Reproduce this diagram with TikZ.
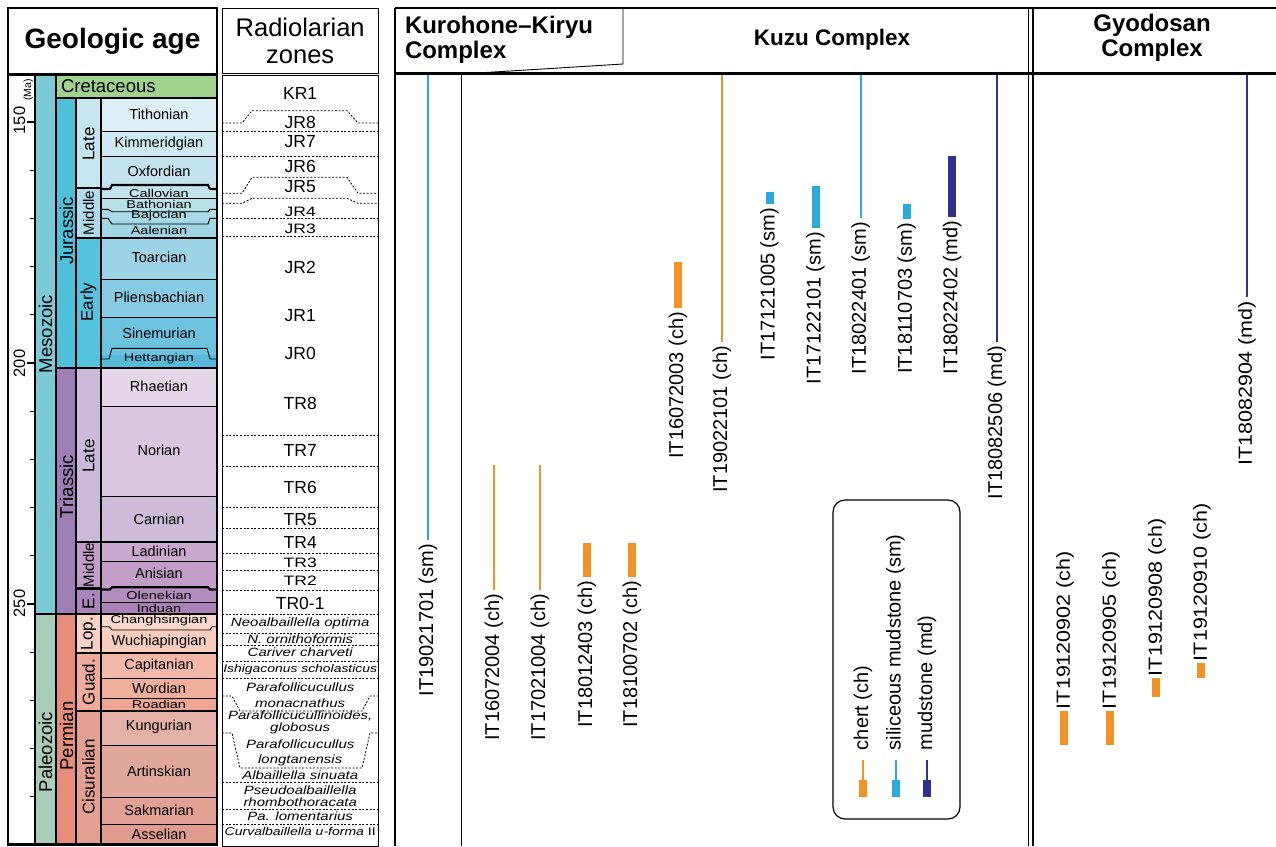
\documentclass[tikz,border=0pt]{standalone}
\usepackage{fontspec}
\setmainfont{Liberation Sans}
\definecolor{cCret}{HTML}{A1D28E}
\definecolor{cMeso}{HTML}{7BCAD6}
\definecolor{cPaleo}{HTML}{A9CDB7}
\definecolor{cJur}{HTML}{4FC0D9}
\definecolor{cTri}{HTML}{9D7EB5}
\definecolor{cPerm}{HTML}{E68E7A}
\definecolor{cLJ}{HTML}{C5E5EF}
\definecolor{cMJ}{HTML}{AEDDE9}
\definecolor{cEJ}{HTML}{55C3DD}
\definecolor{cLT}{HTML}{CBB9DA}
\definecolor{cMT}{HTML}{BF9DC6}
\definecolor{cET}{HTML}{AC85BA}
\definecolor{cLop}{HTML}{F8D2C6}
\definecolor{cGuad}{HTML}{F0AC9A}
\definecolor{cCis}{HTML}{E49F93}
\definecolor{Tith}{HTML}{DCEFF5}
\definecolor{Kimm}{HTML}{CFE9F2}
\definecolor{Oxf}{HTML}{C3E4EF}
\definecolor{Call}{HTML}{C2E5EB}
\definecolor{Bath}{HTML}{B7E0E8}
\definecolor{Baj}{HTML}{ABDBE6}
\definecolor{Aal}{HTML}{A0D6E3}
\definecolor{Toar}{HTML}{9DD3E6}
\definecolor{Plien}{HTML}{86CAE3}
\definecolor{Sinem}{HTML}{6DC2DF}
\definecolor{Hett}{HTML}{56BBDB}
\definecolor{Rhae}{HTML}{E4D5E7}
\definecolor{Nor}{HTML}{D9C7E1}
\definecolor{Carn}{HTML}{CEBBDA}
\definecolor{Ladi}{HTML}{CBA8CE}
\definecolor{Anis}{HTML}{C09CC7}
\definecolor{Olen}{HTML}{B48DBF}
\definecolor{Indu}{HTML}{AA80B9}
\definecolor{Chang}{HTML}{FAD7CC}
\definecolor{Wuch}{HTML}{F8CCBE}
\definecolor{Capi}{HTML}{F3B8A8}
\definecolor{Word}{HTML}{F0AE9D}
\definecolor{Road}{HTML}{EEA593}
\definecolor{Kung}{HTML}{E5B1A7}
\definecolor{Arti}{HTML}{E3A89C}
\definecolor{Sakm}{HTML}{E2A195}
\definecolor{Asse}{HTML}{E19B8F}
\definecolor{chc}{HTML}{F39325}
\definecolor{smc}{HTML}{29ABE2}
\definecolor{mdc}{HTML}{2E3192}
\begin{document}
\begin{tikzpicture}[x=1pt,y=-1pt,
  every node/.style={inner sep=0pt,outer sep=0pt},
  thk/.style={line width=2.2pt},
  thn/.style={line width=0.9pt},
  stg/.style={font=\fontsize{14.5}{16}\selectfont},
  tight/.style={yscale=0.78},
  epo/.style={rotate=90,font=\fontsize{17}{18}\selectfont},
  per/.style={rotate=90,font=\fontsize{18.5}{20}\selectfont},
  zone/.style={font=\fontsize{17.5}{19}\selectfont},
  pz/.style={font=\itshape\fontsize{15}{11}\selectfont,yscale=0.8},
  zl/.style={dash pattern=on 2pt off 1.6pt,line width=0.8pt},
  lab/.style={rotate=90,font=\fontsize{20}{22}\selectfont},
  glab/.style={rotate=90,font=\fontsize{19}{22}\selectfont,xscale=1.13},
  hd/.style={font=\bfseries\fontsize{24}{25}\selectfont,align=center},
  thinbar/.style={line width=2pt},
  thickbar/.style={line width=8pt}]
\useasboundingbox (0,0) rectangle (1276,846);
% ---------------- geologic column fills
\fill[white] (8,74) rectangle (35,845);
\fill[cMeso] (35,74) rectangle (56,614);
\fill[cPaleo] (35,614) rectangle (56,845);
\fill[cCret] (56,74) rectangle (217,98);
\fill[cJur] (56,98) rectangle (76,368);
\fill[cTri] (56,368) rectangle (76,614);
\fill[cPerm] (56,614) rectangle (76,845);
\fill[cLJ] (76,98) rectangle (101,188);
\fill[cMJ] (76,188) rectangle (101,238);
\fill[cEJ] (76,238) rectangle (101,368);
\fill[cLT] (76,368) rectangle (101,542);
\fill[cMT] (76,542) rectangle (101,588);
\fill[cET] (76,588) rectangle (101,614);
\fill[cLop] (76,614) rectangle (101,653);
\fill[cGuad] (76,653) rectangle (101,711);
\fill[cCis] (76,711) rectangle (101,845);
% stages
\fill[Tith] (101,98) rectangle (217,131.7);
\fill[Kimm] (101,131.7) rectangle (217,156.7);
\fill[Oxf] (101,156.7) rectangle (217,189);
\fill[Call] (101,189) rectangle (217,198.5);
\fill[Bath] (101,198.5) rectangle (217,210);
\fill[Baj] (101,210) rectangle (217,221);
\fill[Aal] (101,221) rectangle (217,238);
\fill[Toar] (101,238) rectangle (217,279);
\fill[Plien] (101,279) rectangle (217,317.7);
\fill[Sinem] (101,317.7) rectangle (217,355);
\fill[Hett] (101,355) rectangle (217,368);
\fill[Rhae] (101,368) rectangle (217,406);
\fill[Nor] (101,406) rectangle (217,496.7);
\fill[Carn] (101,496.7) rectangle (217,542);
\fill[Ladi] (101,542) rectangle (217,561);
\fill[Anis] (101,561) rectangle (217,588.5);
\fill[Olen] (101,588.5) rectangle (217,602.3);
\fill[Indu] (101,602.3) rectangle (217,614);
\fill[Chang] (101,614) rectangle (217,628);
\fill[Wuch] (101,628) rectangle (217,653);
\fill[Capi] (101,653) rectangle (217,678.3);
\fill[Word] (101,678.3) rectangle (217,698.3);
\fill[Road] (101,698.3) rectangle (217,711);
\fill[Kung] (101,711) rectangle (217,745);
\fill[Arti] (101,745) rectangle (217,797.3);
\fill[Sakm] (101,797.3) rectangle (217,824);
\fill[Asse] (101,824) rectangle (217,845);
% thin stage boundaries
\draw[thn] (101,131.7) -- (217,131.7);
\draw[thn] (101,156.7) -- (217,156.7);
\draw[thn] (101,198.5) -- (217,198.5);
\draw[thn] (101,209.3) -- (108,209.3) -- (112,211.7) -- (208,211.7) -- (210,209.3) -- (217,209.3);
\draw[thn] (101,218.3) -- (108,218.3) -- (112,224) -- (208,224) -- (210,218.3) -- (217,218.3);
\draw[thn] (101,279) -- (217,279);
\draw[thn] (101,317.7) -- (217,317.7);
\draw[thn] (101,359) -- (109,359) -- (112,348.3) -- (207,348.3) -- (210,359) -- (217,359);
\draw[thn] (101,406) -- (217,406);
\draw[thn] (101,496.7) -- (217,496.7);
\draw[thn] (101,561) -- (217,561);
\draw[thn] (101,602.3) -- (217,602.3);
\draw[thn] (101,626.7) -- (109,626.7) -- (112,630) -- (210,630) -- (212,626.7) -- (217,626.7);
\draw[thn] (101,678.3) -- (217,678.3);
\draw[thn] (101,698.3) -- (217,698.3);
\draw[thn] (101,745) -- (217,745);
\draw[thn] (101,797.3) -- (217,797.3);
\draw[thn] (101,824) -- (217,824);
% thick boundaries
\draw[thk] (101,189) -- (110,189) -- (112,185) -- (208,185) -- (210,189) -- (217,189);
\draw[thk] (76,188) -- (101,188);
\draw[thk] (76,238) -- (217,238);
\draw[thk] (76,542) -- (217,542);
\draw[thk] (76,588.5) -- (101,588.5);
\draw[thk] (101,589.5) -- (110,589.5) -- (112,587.3) -- (208,587.3) -- (210,589.5) -- (217,589.5);
\draw[thk] (76,653) -- (217,653);
\draw[thk] (76,711) -- (217,711);
\draw[thk] (56,98) -- (217,98);
\draw[thk] (56,368) -- (217,368);
\draw[thk] (35,614) -- (217,614);
\draw[thk] (35,74) -- (35,845);
\draw[thk] (56,74) -- (56,845);
\draw[thk] (76,98) -- (76,845);
\draw[thk] (101,98) -- (101,845);
\draw[line width=2.6pt] (8,74.5) rectangle (217,844.5);
\draw[line width=2.6pt] (8,8) rectangle (217,74.5);
% Ma ticks
\foreach \m in {150,200,250} \draw[line width=2.4pt] (27,{122+(\m-150)*4.82}) -- (35,{122+(\m-150)*4.82});
\foreach \m in {160,170,180,190,210,220,230,240,260,270,280,290} \draw[line width=1pt] (30,{122+(\m-150)*4.82}) -- (35,{122+(\m-150)*4.82});
\node[rotate=90,font=\fontsize{16.5}{16}\selectfont] (ma150) at (19.5,120.5) {150};
\node[rotate=90,font=\fontsize{10.5}{10}\selectfont] (maunit) at (28.5,90) {(Ma)};
\node[rotate=90,font=\fontsize{16.5}{16}\selectfont] (ma200) at (19.5,363.5) {200};
\node[rotate=90,font=\fontsize{16.5}{16}\selectfont] (ma250) at (19.5,603.5) {250};
% header
\node[font=\bfseries\fontsize{28}{30}\selectfont] (geoage) at (112.5,41) {Geologic age};
% era / period / epoch labels
\node[per] (meso) at (45.5,334) {Mesozoic};
\node[per] (paleo) at (45.5,752) {Paleozoic};
\node[font=\fontsize{18.5}{20}\selectfont,anchor=west] (cret) at (61,86.5) {Cretaceous};
\node[per] (jur) at (66.5,231) {Jurassic};
\node[per] (tri) at (66.5,486.5) {Triassic};
\node[per] (perm) at (66.5,736) {Permian};
\node[epo] (lj) at (88.5,144) {Late};
\node[epo,font=\fontsize{15}{16}\selectfont] (mj) at (88.5,213) {Middle};
\node[epo] (ej) at (88.5,302) {Early};
\node[epo] (lt) at (88.5,456) {Late};
\node[epo,font=\fontsize{15}{16}\selectfont] (mt) at (88.5,565) {Middle};
\node[epo] (et) at (88.5,601) {E.};
\node[epo] (lop) at (88.5,633.5) {Lop.};
\node[epo] (guad) at (88.5,682) {Guad.};
\node[epo] (cis) at (88.5,777) {Cisuralian};
% stage labels
\node[stg] (n1) at (159,114.5) {Tithonian};
\node[stg] (n2) at (159,144) {Kimmeridgian};
\node[stg] (n3) at (159,171) {Oxfordian};
\node[stg,tight] (n4) at (159,193) {Callovian};
\node[stg,tight] (n5) at (159,204) {Bathonian};
\node[stg,tight] (n6) at (159,215.5) {Bajocian};
\node[stg,tight] (n7) at (159,230) {Aalenian};
\node[stg] (n8) at (159,257) {Toarcian};
\node[stg] (n9) at (159,297) {Pliensbachian};
\node[stg] (n10) at (159,333) {Sinemurian};
\node[stg,tight] (n11) at (159,358.5) {Hettangian};
\node[stg] (n12) at (159,386) {Rhaetian};
\node[stg] (n13) at (159,450) {Norian};
\node[stg] (n14) at (159,519) {Carnian};
\node[stg] (n15) at (159,551.5) {Ladinian};
\node[stg] (n16) at (159,573.5) {Anisian};
\node[stg,tight] (n17) at (159,595) {Olenekian};
\node[stg,tight] (n18) at (159,608) {Induan};
\node[stg,tight] (n19) at (159,620.5) {Changhsingian};
\node[stg] (n20) at (159,642) {Wuchiapingian};
\node[stg] (n21) at (159,665.5) {Capitanian};
\node[stg] (n22) at (159,688) {Wordian};
\node[stg,tight] (n23) at (159,704.5) {Roadian};
\node[stg] (n24) at (159,727) {Kungurian};
\node[stg] (n25) at (159,771) {Artinskian};
\node[stg] (n26) at (159,810) {Sakmarian};
\node[stg] (n27) at (159,834) {Asselian};
% ---------------- radiolarian zones
\draw[line width=1pt] (222,8) rectangle (378.5,73.5);
\draw[line width=1pt] (222,75) rectangle (378.5,846);
\node[font=\fontsize{25.5}{27}\selectfont,align=center] (rzh) at (300.2,41) {Radiolarian\\zones};
\draw[zl] (222,123) -- (242,123) -- (252,110.7) -- (347,110.7) -- (358,123) -- (378.5,123);
\draw[zl] (222,131.7) -- (378.5,131.7);
\draw[zl] (222,156) -- (378.5,156);
\draw[zl] (222,193.3) -- (242,193.3) -- (252,177.3) -- (347,177.3) -- (358,193.3) -- (378.5,193.3);
\draw[zl] (222,203.3) -- (242,203.3) -- (252,198.3) -- (347,198.3) -- (358,203.3) -- (378.5,203.3);
\draw[zl] (222,218.3) -- (378.5,218.3);
\draw[zl] (222,236.7) -- (378.5,236.7);
\draw[zl] (222,435.7) -- (378.5,435.7);
\draw[zl] (222,466) -- (378.5,466);
\draw[zl] (222,507.7) -- (378.5,507.7);
\draw[zl] (222,528.3) -- (378.5,528.3);
\draw[zl] (222,553.3) -- (378.5,553.3);
\draw[zl] (222,570.7) -- (378.5,570.7);
\draw[zl] (222,590.7) -- (378.5,590.7);
\draw[zl] (222,614) -- (378.5,614);
\draw[zl] (222,633.3) -- (378.5,633.3);
\draw[zl] (222,645) -- (378.5,645);
\draw[zl] (222,661) -- (378.5,661);
\draw[zl] (222,678.3) -- (378.5,678.3);
\draw[zl] (222,696) -- (232,696) -- (240,711) -- (362,711) -- (370,696) -- (378.5,696);
\draw[zl] (222,733) -- (232,733) -- (240,768) -- (362,768) -- (370,733) -- (378.5,733);
\draw[zl] (222,782) -- (378.5,782);
\draw[zl] (222,809) -- (378.5,809);
\draw[zl] (222,824) -- (378.5,824);
\node[zone] (z1) at (300.2,93) {KR1};
\node[zone] (z2) at (300.2,122) {JR8};
\node[zone] (z3) at (300.2,142) {JR7};
\node[zone] (z4) at (300.2,166.5) {JR6};
\node[zone] (z5) at (300.2,187) {JR5};
\node[zone,tight] (z6) at (300.2,211.5) {JR4};
\node[zone,tight] (z7) at (300.2,229) {JR3};
\node[zone] (z8) at (300.2,267) {JR2};
\node[zone] (z9) at (300.2,316) {JR1};
\node[zone] (z10) at (300.2,353) {JR0};
\node[zone] (z11) at (300.2,403) {TR8};
\node[zone] (z12) at (300.2,450) {TR7};
\node[zone] (z13) at (300.2,487) {TR6};
\node[zone] (z14) at (300.2,520) {TR5};
\node[zone] (z15) at (300.2,542.5) {TR4};
\node[zone,tight] (z16) at (300.2,562.5) {TR3};
\node[zone,tight] (z17) at (300.2,581) {TR2};
\node[zone] (z18) at (300.2,603) {TR0-1};
\node[pz] (p1) at (300.2,623) {Neoalbaillella optima};
\node[pz] (p2) at (300.2,639.5) {N. ornithoformis};
\node[pz] (p3) at (300.2,652.5) {Cariver charveti};
\node[pz,font=\itshape\fontsize{13.9}{11}\selectfont] (p4) at (300.2,670) {Ishigaconus scholasticus};
\node[pz] (p5a) at (300.2,687.5) {Parafollicucullus};
\node[pz] (p5b) at (300.2,703.5) {monacnathus};
\node[pz] (p6a) at (300.2,716) {Parafollicucullinoides,};
\node[pz] (p6b) at (300.2,728) {globosus};
\node[pz] (p7a) at (300.2,744.5) {Parafollicucullus};
\node[pz] (p7b) at (300.2,760) {longtanensis};
\node[pz] (p8) at (300.2,775) {Albaillella sinuata};
\node[pz] (p9a) at (300.2,790) {Pseudoalbaillella};
\node[pz] (p9b) at (300.2,802) {rhombothoracata};
\node[pz] (p10) at (300.2,816.5) {Pa. lomentarius};
\node[pz,font=\fontsize{14}{11}\selectfont] (p11) at (300.2,831) {\textit{Curvalbaillella u-forma} II};
% ---------------- right panel frame
\draw[line width=2.6pt] (395,8) -- (1276,8);
\draw[line width=2.6pt] (395,8) -- (395,846);
\draw[line width=2.6pt] (395,73.5) -- (1276,73.5);
\draw[thn] (461,73.5) -- (461,846);
\draw[thn] (1028.5,8) -- (1028.5,846);
\draw[line width=2pt] (1032.5,8) -- (1032.5,846);
\draw[thn] (623,8) -- (623,64) -- (470,73.5);
\node[hd,anchor=north west,align=left] (hkk) at (405,16) {Kurohone--Kiryu\\Complex};
\node[hd,font=\bfseries\fontsize{22.5}{24}\selectfont] (hkz) at (832,40) {Kuzu Complex};
\node[hd] (hgy) at (1152,38) {Gyodosan\\Complex};
% ---------------- samples
\draw[smc,thinbar] (428,75) -- (428,540);
\node[lab,anchor=east] (s1) at (428,544) {IT19021701 (sm)};
\draw[chc,thinbar] (494,465) -- (494,590);
\node[lab,anchor=east] (s2) at (494,594) {IT16072004 (ch)};
\draw[chc,thinbar] (540,465) -- (540,590);
\node[lab,anchor=east] (s3) at (540,594) {IT17021004 (ch)};
\draw[chc,thickbar] (587,543) -- (587,577);
\node[lab,anchor=east] (s4) at (587,581) {IT18012403 (ch)};
\draw[chc,thickbar] (632,543) -- (632,577);
\node[lab,anchor=east] (s5) at (632,581) {IT18100702 (ch)};
\draw[chc,thickbar] (678,262) -- (678,308);
\node[lab,anchor=east] (s6) at (678,312) {IT16072003 (ch)};
\draw[chc,thinbar] (722,75) -- (722,342);
\node[lab,anchor=east] (s7) at (722,346) {IT19022101 (ch)};
\draw[smc,thickbar] (769.5,192) -- (769.5,204);
\node[lab,anchor=east] (s8) at (769.5,208) {IT17121005 (sm)};
\draw[smc,thickbar] (815.5,186) -- (815.5,228);
\node[lab,anchor=east] (s9) at (815.5,232) {IT17122101 (sm)};
\draw[smc,thinbar] (860.7,75) -- (860.7,218);
\node[lab,anchor=east] (s10) at (860.7,222) {IT18022401 (sm)};
\draw[smc,thickbar] (906.7,204) -- (906.7,219);
\node[lab,anchor=east] (s11) at (906.7,223) {IT18110703 (sm)};
\draw[mdc,thickbar] (952.3,156) -- (952.3,217);
\node[lab,anchor=east] (s12) at (952.3,221) {IT18022402 (md)};
\draw[mdc,thinbar] (997,75) -- (997,342);
\node[lab,anchor=east] (s13) at (997,346) {IT18082506 (md)};
\draw[chc,thickbar] (1064,711) -- (1064,745);
\node[glab,anchor=west] (s14) at (1065,709) {IT19120902 (ch)};
\draw[chc,thickbar] (1110,711) -- (1110,745);
\node[glab,anchor=west] (s15) at (1111,709) {IT19120905 (ch)};
\draw[chc,thickbar] (1156,678) -- (1156,697);
\node[glab,anchor=west] (s16) at (1157,676) {IT19120908 (ch)};
\draw[chc,thickbar] (1201,663) -- (1201,678);
\node[glab,anchor=west] (s17) at (1202,661) {IT19120910 (ch)};
\draw[mdc,thinbar] (1247,75) -- (1247,297);
\node[glab,anchor=east] (s18) at (1247,301) {IT18082904 (md)};
% ---------------- legend
\draw[line width=1.2pt,rounded corners=12pt] (833,500) rectangle (960,819);
\node[lab,anchor=west] (l1) at (863,750) {chert (ch)};
\node[lab,anchor=west] (l2) at (895.5,750) {siliceous mudstone (sm)};
\node[lab,anchor=west] (l3) at (927,750) {mudstone (md)};
\draw[chc,thinbar] (863,760) -- (863,781);
\draw[chc,thickbar] (863,780) -- (863,797);
\draw[smc,thinbar] (895.5,760) -- (895.5,781);
\draw[smc,thickbar] (895.5,780) -- (895.5,797);
\draw[mdc,thinbar] (927,760) -- (927,781);
\draw[mdc,thickbar] (927,780) -- (927,797);
\end{tikzpicture}
\end{document}
